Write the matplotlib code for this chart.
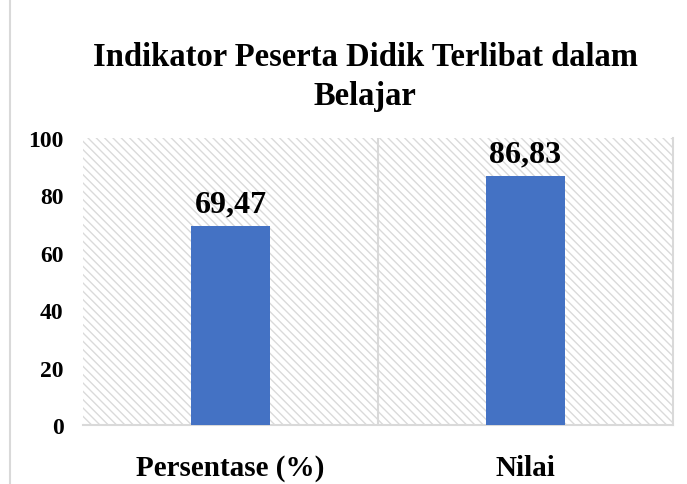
import matplotlib.pyplot as plt
from matplotlib.patches import Rectangle
from matplotlib.lines import Line2D

categories = ["Persentase (%)", "Nilai"]
values = [69.47, 86.83]
value_labels = ["69,47", "86,83"]

plt.rcParams['font.family'] = 'serif'
plt.rcParams['font.serif'] = ['Liberation Serif', 'DejaVu Serif']
plt.rcParams['font.weight'] = 'bold'
plt.rcParams['hatch.color'] = '#dadada'
plt.rcParams['hatch.linewidth'] = 1.0

fig = plt.figure(figsize=(6.87, 4.85), dpi=100)
ax = fig.add_axes([83 / 687, 1 - 426 / 485, 590 / 687, 287 / 485])

# hatched background
bg = Rectangle((0, 0), 1, 1, transform=ax.transAxes, facecolor='white',
               edgecolor='#dadada', hatch='\\\\\\\\', linewidth=0, zorder=0)
ax.add_patch(bg)

x = range(len(categories))
ax.bar(x, values, width=0.27, color='#4472c4', zorder=3)
for xi, v, lab in zip(x, values, value_labels):
    ax.text(xi, v + 2.5, lab, ha='center', va='bottom', fontsize=23, fontweight='bold')

ax.set_xlim(-0.5, 1.5)
ax.set_ylim(0, 100)
ax.axvline(0.5, color='#d9d9d9', lw=1.5, zorder=2)
ax.set_xticks(list(x))
ax.set_xticklabels(categories, fontsize=21, fontweight='bold')
ax.set_yticks([0, 20, 40, 60, 80, 100])
ax.set_yticklabels(['0', '20', '40', '60', '80', '100'], fontsize=17, fontweight='bold')
ax.tick_params(length=0, pad=14)
ax.tick_params(axis='x', pad=21)
for s in ['top', 'left']:
    ax.spines[s].set_visible(False)
ax.spines['right'].set_color('#d9d9d9')
ax.spines['right'].set_linewidth(1.5)
ax.spines['bottom'].set_color('#d9d9d9')
ax.spines['bottom'].set_linewidth(1.5)

fig.text(365 / 687, 1 - 77 / 485, "Indikator Peserta Didik Terlibat dalam\nBelajar",
         ha='center', va='center', fontsize=23.5, fontweight='bold', linespacing=1.3)

fig.add_artist(Line2D([10 / 687, 10 / 687], [0, 1], transform=fig.transFigure,
                      color='#d9d9d9', lw=1.5))

fig.savefig('out.png', dpi=100)
